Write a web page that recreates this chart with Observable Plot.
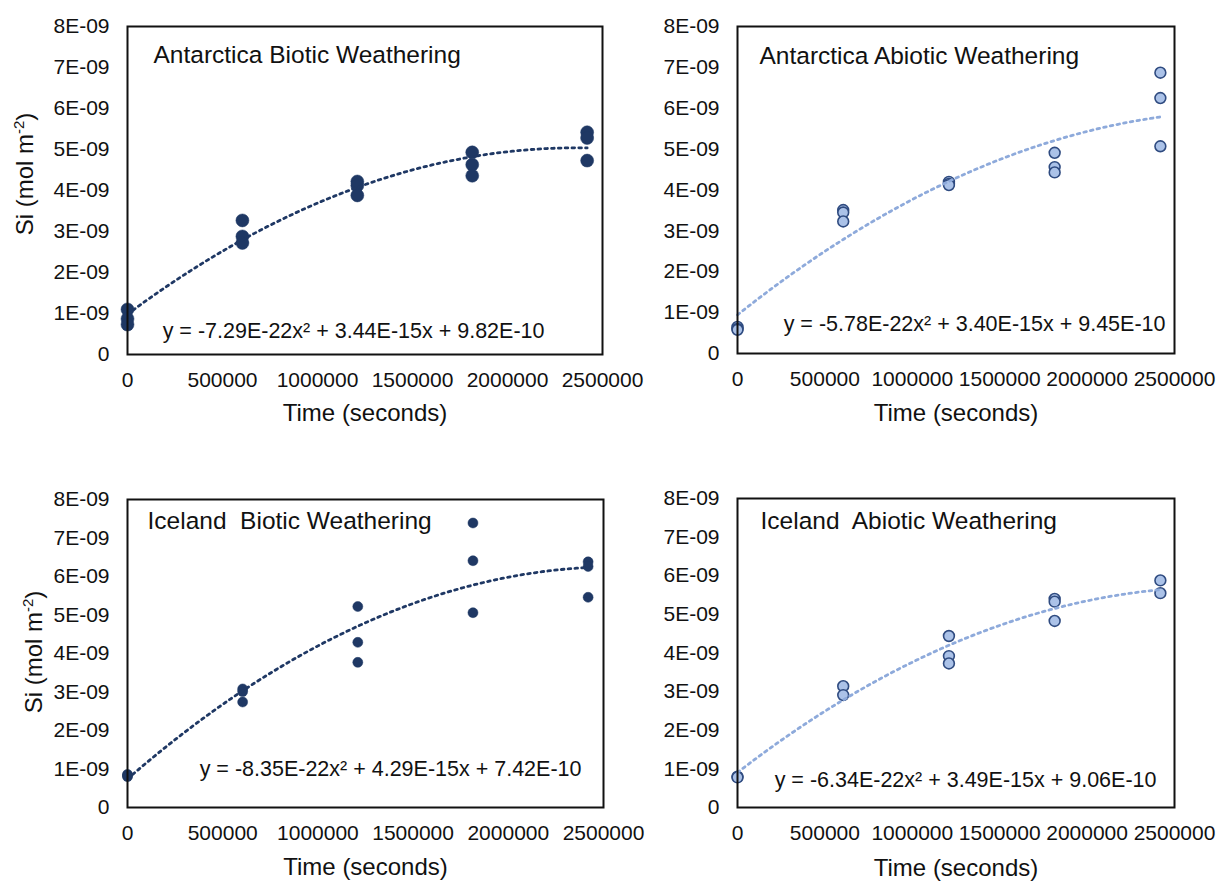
<!DOCTYPE html>
<html>
<head>
<meta charset="utf-8">
<script src="https://cdn.jsdelivr.net/npm/d3@7"></script>
<script src="https://cdn.jsdelivr.net/npm/@observablehq/plot@0.6"></script>
<style>
  body { margin: 0; background: #fff; }
  #chart { position: relative; width: 1225px; height: 882px; font-family: "Liberation Sans", Arial, sans-serif; }
  .panel { position: absolute; }
  .panel svg { overflow: visible; background: transparent; max-width: none; }
</style>
</head>
<body>
<div id="chart"></div>
<script>
// Sampling times (seconds): 0, 7, 14, 21 and 28 days
const times = [0, 604800, 1209600, 1814400, 2419200];

// Dissolved Si per unit area (mol m-2), replicate values at each sampling time
const antarcticaBiotic = [
  [1.10e-9, 0.87e-9, 0.73e-9],
  [3.27e-9, 2.88e-9, 2.72e-9],
  [4.22e-9, 4.12e-9, 3.88e-9],
  [4.93e-9, 4.63e-9, 4.36e-9],
  [5.42e-9, 5.28e-9, 4.73e-9]
];
const antarcticaAbiotic = [
  [0.65e-9, 0.60e-9, 0.58e-9],
  [3.51e-9, 3.45e-9, 3.23e-9],
  [4.20e-9, 4.15e-9, 4.12e-9],
  [4.91e-9, 4.56e-9, 4.43e-9],
  [6.87e-9, 6.25e-9, 5.07e-9]
];
const icelandBiotic = [
  [0.86e-9, 0.83e-9, 0.80e-9],
  [3.08e-9, 3.01e-9, 2.74e-9],
  [5.22e-9, 4.29e-9, 3.77e-9],
  [7.39e-9, 6.41e-9, 5.06e-9],
  [6.38e-9, 6.26e-9, 5.46e-9]
];
const icelandAbiotic = [
  [0.80e-9, 0.78e-9],
  [3.14e-9, 2.91e-9],
  [4.44e-9, 3.92e-9, 3.73e-9],
  [5.40e-9, 5.33e-9, 4.83e-9],
  [5.88e-9, 5.55e-9]
];

// Second-order polynomial trendline coefficients [a, b, c] for y = a x^2 + b x + c
const antarcticaBioticFit = [-7.29e-22, 3.44e-15, 9.82e-10];
const antarcticaAbioticFit = [-5.78e-22, 3.40e-15, 9.45e-10];
const icelandBioticFit = [-8.35e-22, 4.29e-15, 7.42e-10];
const icelandAbioticFit = [-6.34e-22, 3.49e-15, 9.06e-10];

// Panel titles and trendline equations
const panelTitles = [
  "Antarctica Biotic Weathering",
  "Antarctica Abiotic Weathering",
  "Iceland  Biotic Weathering",
  "Iceland  Abiotic Weathering"
];
const equations = [
  "y = -7.29E-22x² + 3.44E-15x + 9.82E-10",
  "y = -5.78E-22x² + 3.40E-15x + 9.45E-10",
  "y = -8.35E-22x² + 4.29E-15x + 7.42E-10",
  "y = -6.34E-22x² + 3.49E-15x + 9.06E-10"
];

// Axis ticks and their labels
const xTicks = [0, 500000, 1000000, 1500000, 2000000, 2500000];
const xTickLabels = ["0", "500000", "1000000", "1500000", "2000000", "2500000"];
const yTicks = [0, 1e-9, 2e-9, 3e-9, 4e-9, 5e-9, 6e-9, 7e-9, 8e-9];
const yTickLabels = ["0", "1E-09", "2E-09", "3E-09", "4E-09", "5E-09", "6E-09", "7E-09", "8E-09"];
const xTitle = "Time (seconds)";

// Colours
const navy = "#1f3864";
const paleFill = "#abc2e8";
const paleStroke = "#2f4b80";
const paleLine = "#8eaadb";

const layout = [
  {obs: antarcticaBiotic, fit: antarcticaBioticFit, left: 0, top: 0, width: 612, height: 441,
   mt: 26, mr: 10, mb: 87, ml: 127, biotic: true, r: 6.5,
   tdx: 26, tdy: 36.3, edx: -58, edy: -17, xdy: 59, yTitle: [33, 174]},
  {obs: antarcticaAbiotic, fit: antarcticaAbioticFit, left: 612, top: 0, width: 613, height: 441,
   mt: 26, mr: 51, mb: 88, ml: 125, biotic: false, r: 5.4,
   tdx: 22, tdy: 37, edx: -9, edy: -22.3, xdy: 60, yTitle: null},
  {obs: icelandBiotic, fit: icelandBioticFit, left: 0, top: 441, width: 612, height: 441,
   mt: 58, mr: 9, mb: 75, ml: 127, biotic: true, r: 5,
   tdx: 20, tdy: 29.3, edx: -22, edy: -31.3, xdy: 60, yTitle: [42, 652 - 441]},
  {obs: icelandAbiotic, fit: icelandAbioticFit, left: 612, top: 441, width: 613, height: 441,
   mt: 57, mr: 51, mb: 75, ml: 125, biotic: false, r: 5.4,
   tdx: 23, tdy: 30, edx: -18, edy: -21, xdy: 61, yTitle: null}
];

const chart = document.getElementById("chart");

layout.forEach((p, k) => {
  // replicate points
  const points = [];
  p.obs.forEach((vals, i) => vals.forEach(v => points.push({t: times[i], si: v})));

  // trendline evaluated from its stated coefficients over the sampled time range
  const [a, b, c] = p.fit;
  const tMax = times[times.length - 1];
  const curve = d3.range(0, 81).map(j => {
    const t = tMax * j / 80;
    return {t, si: a * t * t + b * t + c};
  });

  const lineColor = p.biotic ? navy : paleLine;

  const svg = Plot.plot({
    width: p.width,
    height: p.height,
    marginTop: p.mt,
    marginRight: p.mr,
    marginBottom: p.mb,
    marginLeft: p.ml,
    style: {fontFamily: "'Liberation Sans', Arial, sans-serif", fontSize: "21px", color: "#111", overflow: "visible", background: "transparent"},
    x: {domain: [0, 2500000]},
    y: {domain: [0, 8e-9]},
    marks: [
      Plot.axisX({ticks: xTicks, tickFormat: (d) => xTickLabels[xTicks.indexOf(d)], tickSize: 0, tickPadding: 18, label: null, fontSize: 21}),
      Plot.axisY({ticks: yTicks, tickFormat: (d) => yTickLabels[yTicks.indexOf(d)], tickSize: 0, tickPadding: 18, label: null, fontSize: 21}),
      p.biotic
        ? Plot.dot(points, {x: "t", y: "si", r: p.r, fill: navy, stroke: navy, strokeWidth: 0.5})
        : Plot.dot(points, {x: "t", y: "si", r: p.r, fill: paleFill, stroke: paleStroke, strokeWidth: 1.6}),
      Plot.line(curve, {x: "t", y: "si", stroke: lineColor, strokeWidth: 2.8, strokeDasharray: "2.6 4.2"}),
      Plot.frame({stroke: "#111", strokeWidth: 2}),
      Plot.text([panelTitles[k]], {frameAnchor: "top-left", dx: p.tdx, dy: p.tdy, textAnchor: "start", lineAnchor: "bottom", fontSize: 24.5, fill: "#111"}),
      Plot.text([equations[k]], {frameAnchor: "bottom-right", dx: p.edx, dy: p.edy, textAnchor: "end", lineAnchor: "bottom", fontSize: 21.5, fill: "#111"}),
      Plot.text([xTitle], {frameAnchor: "bottom", dy: p.xdy, lineAnchor: "middle", fontSize: 24, fill: "#111"})
    ]
  });

  if (p.yTitle) {
    const t = d3.select(svg).append("text")
      .attr("transform", `translate(${p.yTitle[0]},${p.yTitle[1]}) rotate(-90)`)
      .attr("text-anchor", "middle")
      .attr("font-size", 24)
      .attr("fill", "#111");
    t.append("tspan").text("Si (mol m");
    t.append("tspan").attr("font-size", 15).attr("dy", -9).text("-2");
    t.append("tspan").attr("dy", 9).text(")");
  }

  const div = document.createElement("div");
  div.className = "panel";
  div.style.left = p.left + "px";
  div.style.top = p.top + "px";
  div.style.width = p.width + "px";
  div.style.height = p.height + "px";
  div.appendChild(svg);
  chart.appendChild(div);
});
</script>
</body>
</html>
